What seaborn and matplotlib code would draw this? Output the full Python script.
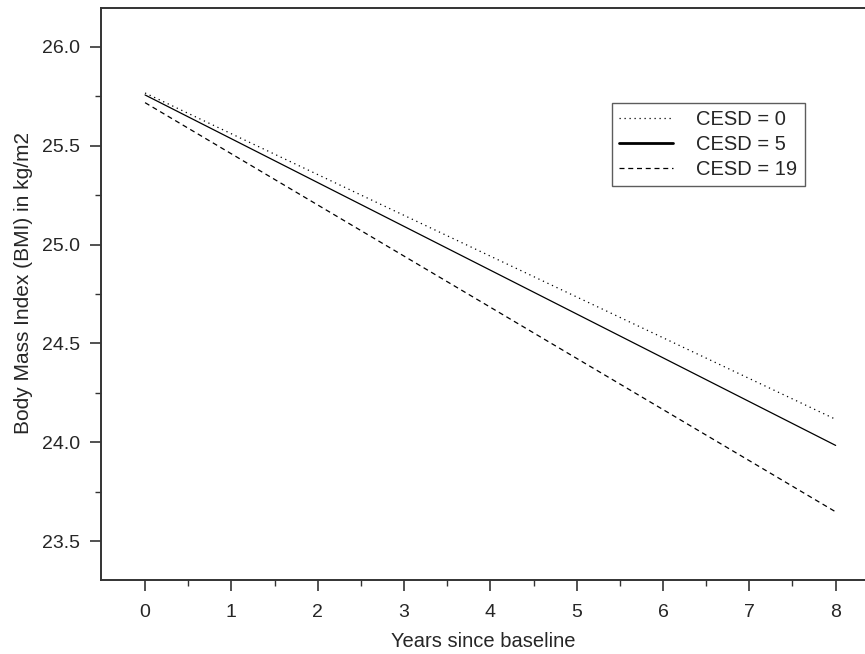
import numpy as np
import pandas as pd
import matplotlib
matplotlib.use('Agg')
import matplotlib.pyplot as plt
import seaborn as sns
from matplotlib.ticker import MultipleLocator, FixedLocator

# Data (straight-line predictions at start and end of follow-up)
years = [0, 8]
bmi_cesd0 = [25.767, 24.116]
bmi_cesd5 = [25.757, 23.984]
bmi_cesd19 = [25.718, 23.648]
series_labels = ['CESD = 0', 'CESD = 5', 'CESD = 19']

df = pd.DataFrame({
    'year': years * 3,
    'bmi': bmi_cesd0 + bmi_cesd5 + bmi_cesd19,
    'group': [series_labels[0]] * 2 + [series_labels[1]] * 2 + [series_labels[2]] * 2,
})

sns.set_style('ticks')
plt.rcParams['font.family'] = ['Liberation Sans', 'DejaVu Sans']

fig = plt.figure(figsize=(8.65, 6.54), dpi=100)
ax = fig.add_axes([0.1168, 0.1131, 0.8832, 0.8747])

dashes = {series_labels[0]: (1, 3), series_labels[1]: '', series_labels[2]: (4, 3)}
sns.lineplot(data=df, x='year', y='bmi', style='group', dashes=dashes,
             color='black', linewidth=0.9, ax=ax, legend=True)

ax.set_xlim(-0.51, 8.34)
ax.set_ylim(23.303, 26.197)
ax.xaxis.set_major_locator(MultipleLocator(1))
ax.xaxis.set_minor_locator(FixedLocator(np.arange(0.5, 8, 1.0)))
ax.yaxis.set_major_locator(MultipleLocator(0.5))
ax.yaxis.set_minor_locator(MultipleLocator(0.25))
ax.yaxis.set_major_formatter(plt.FormatStrFormatter('%.1f'))

for side in ['left', 'top', 'bottom']:
    ax.spines[side].set_linewidth(1.4)
    ax.spines[side].set_color('#333333')
ax.spines['right'].set_visible(False)

ax.tick_params(which='major', length=8, width=1.2, color='#333333', labelsize=14, pad=7)
ax.tick_params(which='minor', length=4, width=1.0, color='#333333')
ax.tick_params(axis='x', pad=9)

ax.set_xlabel('Years since baseline', fontsize=14.5, labelpad=8)
ax.set_ylabel('Body Mass Index (BMI) in kg/m2', fontsize=15)
ax.yaxis.set_label_coords(-0.089, 0.519)

leg = ax.legend(loc='upper right', bbox_to_anchor=(0.921, 0.834), fontsize=14.5,
                frameon=True, fancybox=False, edgecolor='#333333', borderaxespad=0,
                handlelength=2.7, handletextpad=1.15, borderpad=0.35, labelspacing=0.3)
leg.get_frame().set_linewidth(1.0)
for line in leg.get_lines():
    line.set_color('black')
leg.get_lines()[1].set_linewidth(2.0)

fig.savefig('out.png', dpi=100)
